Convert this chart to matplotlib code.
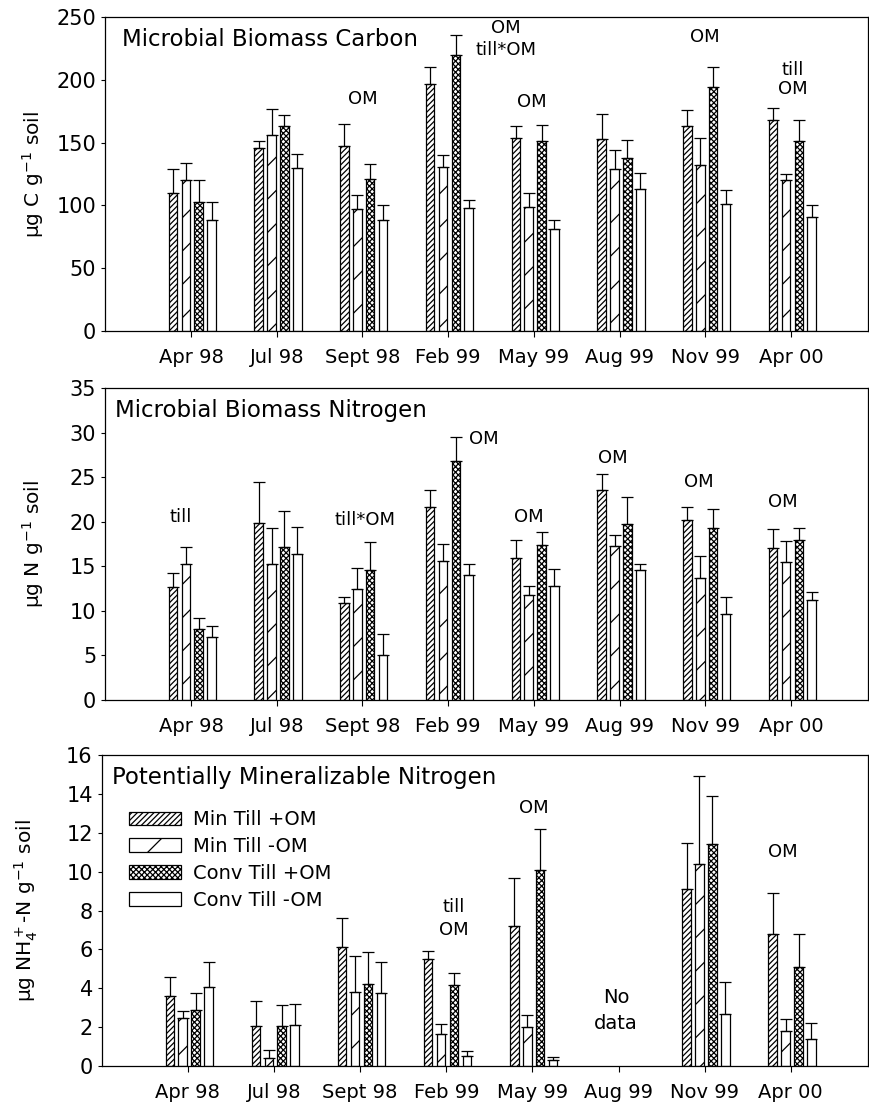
import matplotlib
matplotlib.use("Agg")
import matplotlib.pyplot as plt
import matplotlib.patches as mpatches
import numpy as np

nan = np.nan

dates = ["Apr 98", "Jul 98", "Sept 98", "Feb 99", "May 99", "Aug 99", "Nov 99", "Apr 00"]
treatments = ["Min Till +OM", "Min Till -OM", "Conv Till +OM", "Conv Till -OM"]

# rows follow treatments, columns follow dates
mbc_mean = [
    [110, 146, 147, 197, 154, 153, 163, 168],
    [120, 156, 97, 131, 99, 129, 132, 120],
    [103, 163, 121, 220, 151, 138, 194, 151],
    [88, 130, 88, 98, 81, 113, 101, 91],
]
mbc_err = [
    [19, 5, 18, 13, 9, 20, 13, 10],
    [14, 21, 11, 9, 11, 15, 22, 5],
    [17, 9, 12, 16, 13, 14, 16, 17],
    [15, 11, 12, 6, 7, 13, 11, 9],
]

mbn_mean = [
    [12.7, 19.8, 10.9, 21.7, 15.9, 23.6, 20.2, 17.0],
    [15.2, 15.3, 12.5, 15.6, 11.8, 17.3, 13.7, 15.5],
    [8.0, 17.2, 14.6, 26.8, 17.4, 19.7, 19.3, 18.0],
    [7.1, 16.4, 5.1, 14.0, 12.8, 14.6, 9.7, 11.2],
]
mbn_err = [
    [1.5, 4.6, 0.7, 1.9, 2.0, 1.7, 1.5, 2.2],
    [2.0, 4.0, 2.3, 1.9, 1.0, 1.2, 2.5, 2.3],
    [1.2, 4.0, 3.1, 2.7, 1.5, 3.1, 2.1, 1.3],
    [1.2, 3.0, 2.3, 1.2, 1.9, 0.7, 1.9, 0.9],
]

pmn_mean = [
    [3.6, 2.06, 6.13, 5.48, 7.2, nan, 9.1, 6.8],
    [2.45, 0.43, 3.8, 1.67, 2.0, nan, 10.4, 1.8],
    [2.87, 2.06, 4.24, 4.15, 10.1, nan, 11.4, 5.1],
    [4.07, 2.1, 3.76, 0.5, 0.3, nan, 2.7, 1.4],
]
pmn_err = [
    [1.0, 1.3, 1.5, 0.45, 2.45, nan, 2.35, 2.1],
    [0.4, 0.37, 1.85, 0.5, 0.6, nan, 4.5, 0.6],
    [0.9, 1.1, 1.6, 0.65, 2.1, nan, 2.5, 1.7],
    [1.3, 1.1, 1.6, 0.25, 0.15, nan, 1.6, 0.8],
]

HATCHES = ["//////", "/", "xxxxxx", ""]
BAR_W = 0.10
STEP = 0.15

plt.rcParams["hatch.linewidth"] = 0.9
plt.rcParams["font.family"] = ["DejaVu Sans"]


def draw_panel(ax, means, errs, ymax, ystep, title, title_x, ylabel, ylabel_x):
    x = np.arange(1, len(dates) + 1)
    for i, (m, e) in enumerate(zip(means, errs)):
        m = np.array(m, dtype=float)
        e = np.array(e, dtype=float)
        pos = x + (i - 1.5) * STEP + 0.015
        ok = ~np.isnan(m)
        ax.bar(pos[ok], m[ok], width=BAR_W, color="white", edgecolor="black",
               hatch=HATCHES[i], linewidth=0.9, zorder=2)
        ax.errorbar(pos[ok], m[ok], yerr=[np.zeros(ok.sum()), e[ok]], fmt="none",
                    ecolor="black", elinewidth=0.9, capsize=4, capthick=0.9, zorder=3)
    ax.set_xlim(0, 8.9)
    ax.set_ylim(0, ymax)
    ax.set_yticks(np.arange(0, ymax + 0.01, ystep))
    ax.set_xticks(x)
    ax.set_xticklabels(dates, fontsize=14)
    ax.tick_params(axis="y", labelsize=15, direction="out", length=3, width=0.8)
    ax.tick_params(axis="x", direction="out", length=4, width=0.8, pad=8)
    for s in ax.spines.values():
        s.set_linewidth(0.9)
    ax.text(title_x, 0.965, title, transform=ax.transAxes, fontsize=16.5,
            ha="left", va="top")
    ax.set_ylabel(ylabel, fontsize=14.5)
    ax.yaxis.set_label_coords(ylabel_x, 0.5)


fig = plt.figure(figsize=(8.7, 11.05), dpi=100)
ax1 = fig.add_axes([0.121, 0.7005, 0.877, 0.284])
ax2 = fig.add_axes([0.121, 0.3665, 0.877, 0.2824])
ax3 = fig.add_axes([0.117, 0.0353, 0.881, 0.2814])

draw_panel(ax1, mbc_mean, mbc_err, 250, 50, "Microbial Biomass Carbon", 0.022,
           "µg C g$^{-1}$ soil", -0.078)
draw_panel(ax2, mbn_mean, mbn_err, 35, 5, "Microbial Biomass Nitrogen", 0.013,
           "µg N g$^{-1}$ soil", -0.078)
draw_panel(ax3, pmn_mean, pmn_err, 16, 2, "Potentially Mineralizable Nitrogen", 0.013,
           "µg NH$_4^+$-N g$^{-1}$ soil", -0.08)

# significance labels
kw = dict(fontsize=13, ha="center", va="center")
ax1.text(3.0, 185, "OM", **kw)
ax1.text(4.67, 241, "OM", **kw)
ax1.text(4.67, 224, "till*OM", **kw)
ax1.text(4.97, 182, "OM", **kw)
ax1.text(6.99, 234, "OM", **kw)
ax1.text(8.02, 208, "till", **kw)
ax1.text(8.02, 193, "OM", **kw)

ax2.text(0.875, 20.5, "till", **kw)
ax2.text(3.03, 20.2, "till*OM", **kw)
ax2.text(4.24, 29.3, "OM", fontsize=13, ha="left", va="center")
ax2.text(4.94, 20.5, "OM", **kw)
ax2.text(5.92, 27.1, "OM", **kw)
ax2.text(6.92, 24.5, "OM", **kw)
ax2.text(7.9, 22.2, "OM", **kw)

ax3.text(4.09, 8.2, "till", **kw)
ax3.text(4.09, 7.0, "OM", **kw)
ax3.text(5.02, 13.3, "OM", **kw)
ax3.text(5.97, 3.55, "No", fontsize=14, ha="center", va="center")
ax3.text(5.97, 2.2, "data", fontsize=14, ha="center", va="center")
ax3.text(7.91, 11.0, "OM", **kw)

handles = [mpatches.Patch(facecolor="white", edgecolor="black", hatch=h,
                          linewidth=0.9, label=t)
           for h, t in zip(HATCHES, treatments)]
ax3.legend(handles=handles, loc="upper left", bbox_to_anchor=(0.02, 0.86),
           frameon=False, fontsize=14, handlelength=2.7, handleheight=0.7,
           labelspacing=0.4, handletextpad=0.6, borderaxespad=0.2)

fig.savefig("out.png", dpi=100)
